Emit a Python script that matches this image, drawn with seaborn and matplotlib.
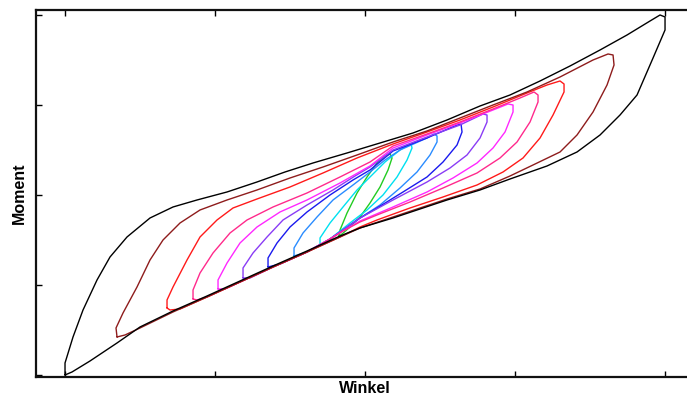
import matplotlib
matplotlib.use("Agg")
import matplotlib.pyplot as plt
import seaborn as sns
import pandas as pd

# Hysteresis loops, Winkel / Moment in arbitrary units
black_w = [-300, -300, -292, -282, -268, -255, -238, -215, -192, -168, -138, -108, -80, -52, -18, 15, 48, 82,
           115, 145, 175, 205, 235, 262, 285, 295, 300,
           300, 288, 272, 255, 235, 212, 182, 145, 115, 82, 55, 28, -5, -25, -58, -92, -125, -158, -192, -225,
           -248, -275, -293, -300]
black_m = [-180, -168, -142, -115, -85, -62, -42, -23, -12, -5, 3, 13, 23, 32, 42, 52, 62, 75,
           89, 100, 114, 129, 145, 160, 174, 180, 178,
           165, 137, 100, 80, 60, 43, 29, 16, 5, -5, -14, -23, -33, -41, -56, -71, -86, -101, -116, -132,
           -148, -166, -177, -180]

maroon_w = [-248, -249, -242, -228, -215, -202, -185, -165, -138, -108, -75, -42, -8, 28, 62, 95, 128, 162, 195,
            228, 243, 248, 249, 242, 228, 212, 195, 168, 145, 115, 82, 55, 28, -5, -25, -58, -92, -125, -158,
            -192, -225, -240, -248]
maroon_m = [-142, -133, -118, -92, -65, -45, -28, -15, -5, 5, 17, 28, 40, 53, 64, 77, 90, 103, 118,
            135, 141, 140, 130, 110, 83, 60, 43, 30, 19, 6, -4, -13, -22, -33, -42, -57, -72, -87, -102,
            -117, -133, -140, -142]

red_w = [-198, -198, -192, -178, -165, -148, -132, -108, -75, -42, -8, 28, 62, 95, 128, 162, 182, 195, 199,
         199, 188, 175, 158, 138, 112, 78, 45, 12, -5, -25, -58, -92, -125, -158, -185, -195, -198]
red_m = [-113, -105, -92, -65, -42, -25, -13, -4, 8, 22, 37, 51, 63, 75, 88, 102, 110, 114, 111,
         103, 80, 57, 37, 23, 10, -2, -13, -25, -32, -42, -57, -72, -87, -102, -114, -115, -113]

rose_w = [-172, -172, -165, -152, -135, -118, -92, -58, -25, 5, 28, 62, 95, 128, 155, 169, 173, 173, 165,
          152, 135, 112, 78, 45, 12, -5, -22, -35, -58, -92, -125, -158, -168, -172]
rose_m = [-104, -95, -78, -58, -38, -25, -12, 2, 18, 33, 49, 61, 73, 86, 97, 103, 100, 93, 73,
          53, 37, 22, 7, -7, -20, -27, -36, -44, -57, -72, -87, -102, -105, -104]

magenta_w = [-147, -147, -138, -125, -108, -85, -58, -25, 5, 28, 62, 95, 128, 143, 148, 148, 140, 128, 112,
             88, 62, 28, -5, -22, -35, -58, -92, -125, -140, -147]
magenta_m = [-94, -85, -68, -48, -32, -17, -5, 12, 29, 47, 60, 72, 85, 91, 90, 83, 63, 47, 32,
             17, 3, -12, -26, -36, -44, -57, -72, -87, -94, -94]

purple_w = [-122, -122, -112, -98, -82, -58, -32, -10, 5, 28, 62, 95, 118, 122, 122, 115, 102, 85, 62, 28,
            -5, -22, -35, -58, -92, -115, -122]
purple_m = [-83, -73, -58, -42, -25, -10, 5, 19, 28, 45, 58, 70, 81, 80, 73, 57, 40, 27, 13, -5,
            -23, -35, -44, -57, -72, -83, -83]

blue_w = [-97, -97, -88, -75, -58, -35, -12, 5, 28, 62, 92, 96, 97, 92, 78, 62, 38, 12, -5, -22, -35, -58,
          -85, -97]
blue_m = [-72, -63, -48, -32, -17, 0, 15, 25, 44, 57, 70, 71, 63, 50, 33, 18, 3, -13, -23, -35, -44, -57,
          -69, -72]

lightblue_w = [-71, -71, -62, -48, -32, -12, 5, 20, 35, 62, 69, 72, 72, 65, 52, 35, 15, -5, -22, -35, -58, -71]
lightblue_m = [-61, -53, -38, -22, -5, 10, 23, 35, 45, 57, 61, 59, 53, 40, 23, 7, -10, -23, -35, -44, -57, -61]

cyan_w = [-45, -45, -35, -22, -8, 5, 20, 35, 43, 46, 47, 42, 32, 18, 2, -15, -30, -40, -45]
cyan_m = [-50, -43, -28, -12, 5, 18, 33, 45, 50, 51, 47, 35, 18, 0, -15, -28, -40, -48, -50]

green_w = [-26, -25, -18, -8, 2, 12, 20, 25, 27, 23, 15, 5, -5, -15, -23, -26]
green_m = [-41, -35, -18, 2, 18, 32, 39, 41, 37, 25, 8, -8, -22, -32, -39, -41]

loops = [
    (green_w, green_m, "#22cc22"),
    (cyan_w, cyan_m, "#00e0f0"),
    (lightblue_w, lightblue_m, "#2a8cff"),
    (blue_w, blue_m, "#1a1aee"),
    (purple_w, purple_m, "#8a3cf5"),
    (magenta_w, magenta_m, "#ff28ff"),
    (rose_w, rose_m, "#ff2a8c"),
    (red_w, red_m, "#ff1a1a"),
    (maroon_w, maroon_m, "#8e1c1c"),
    (black_w, black_m, "black"),
]

sns.set_style("ticks")
plt.rcParams['font.family'] = ['Liberation Sans', 'DejaVu Sans']

fig = plt.figure(figsize=(6.87, 4.01), dpi=100)
ax = fig.add_axes([0.0517, 0.0599, 0.96, 0.9152])

for w, m, c in loops:
    df = pd.DataFrame({'Winkel': w, 'Moment': m})
    sns.lineplot(data=df, x='Winkel', y='Moment', sort=False, estimator=None,
                 color=c, lw=1.0, ax=ax)

ax.set_xlim(-329.5, 330)
ax.set_ylim(-182, 185)
ax.set_xticks([-300, -150, 0, 150, 300])
ax.set_yticks([-180, -90, 0, 90, 180])
ax.tick_params(direction='in', length=4, width=1, top=True, right=True,
               labelbottom=False, labelleft=False, color='black')
for s in ax.spines.values():
    s.set_linewidth(1.6)
    s.set_color('#111111')

ax.set_xlabel('Winkel', fontsize=11.5, fontweight='bold', labelpad=3, color='black')
ax.set_ylabel('Moment', fontsize=11.5, fontweight='bold', labelpad=6, color='black')

plt.savefig('out.png', dpi=100)
